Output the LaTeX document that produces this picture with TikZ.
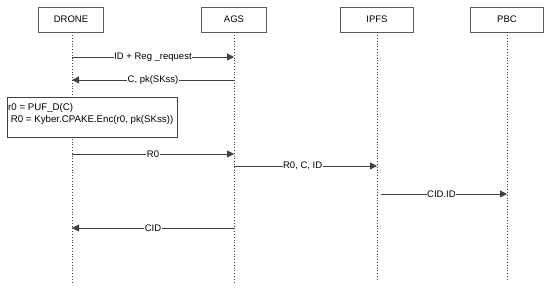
\documentclass[tikz,border=0pt]{standalone}
\usepackage{fontspec}
\setmainfont{Liberation Sans}
\usetikzlibrary{arrows.meta}
\definecolor{ln}{HTML}{404040}
\begin{document}
\begin{tikzpicture}[x=1pt,y=-1pt,
  actor/.style={draw=ln!85, line width=0.8pt, minimum width=65pt, minimum height=25pt, inner sep=0pt, font=\fontsize{9.5}{11}\selectfont},
  life/.style={draw=ln, line width=0.8pt, dotted},
  msg/.style={draw=ln, line width=0.8pt, -{Triangle[length=7pt,width=7pt]}},
  lbl/.style={fill=white, inner sep=0.5pt, font=\fontsize{9.5}{11}\selectfont, text=black}]
\useasboundingbox (0,0) rectangle (550,292);
\node[actor] (drone) at (71,19.5) {DRONE};
\node[actor] (ags) at (234,19.5) {AGS};
\node[actor, minimum width=73pt] (ipfs) at (377,19.5) {IPFS};
\node[actor, minimum width=73pt] (pbc) at (507,19.5) {PBC};
\coordinate (dE) at (72,284);
\coordinate (aE) at (234,284);
\coordinate (iE) at (377,280);
\coordinate (pE) at (507,280);
\draw[life] (drone.south) ++(1,0) -- (dE);
\draw[life] (ags.south) -- (aE);
\draw[life] (ipfs.south) -- (iE);
\draw[life] (pbc.south) -- (pE);
% messages
\coordinate (m1a) at (72,57);  \coordinate (m1b) at (234,57);
\draw[msg] (m1a) -- node[lbl] {ID + Reg \_request} (m1b);
\coordinate (m2a) at (234,80);  \coordinate (m2b) at (72,80);
\draw[msg] (m2a) -- node[lbl] {C, pk(SKss)} (m2b);
\node[draw=ln, fill=white, line width=0.8pt, minimum width=170pt, minimum height=40pt, inner sep=0pt] (note) at (92,117) {};
\node[anchor=north west, inner sep=0pt, align=left, font=\fontsize{9.7}{11.5}\selectfont] (notetxt) at (8,103.5) {r0 = PUF\_D(C)\\\ R0 = Kyber.CPAKE.Enc(r0, pk(SKss))};
\coordinate (m3a) at (72,154);  \coordinate (m3b) at (234,154);
\draw[msg] (m3a) -- node[lbl] {R0} (m3b);
\coordinate (m4a) at (234,166);  \coordinate (m4b) at (377,166);
\draw[msg] (m4a) -- node[lbl, pos=0.48] {R0, C, ID} (m4b);
\coordinate (m5a) at (381,194);  \coordinate (m5b) at (507,194);
\draw[msg] (m5a) -- node[lbl, pos=0.48] {CID.ID} (m5b);
\coordinate (m6a) at (234,228);  \coordinate (m6b) at (72,228);
\draw[msg] (m6a) -- node[lbl, pos=0.5] {CID} (m6b);
\end{tikzpicture}
\end{document}
